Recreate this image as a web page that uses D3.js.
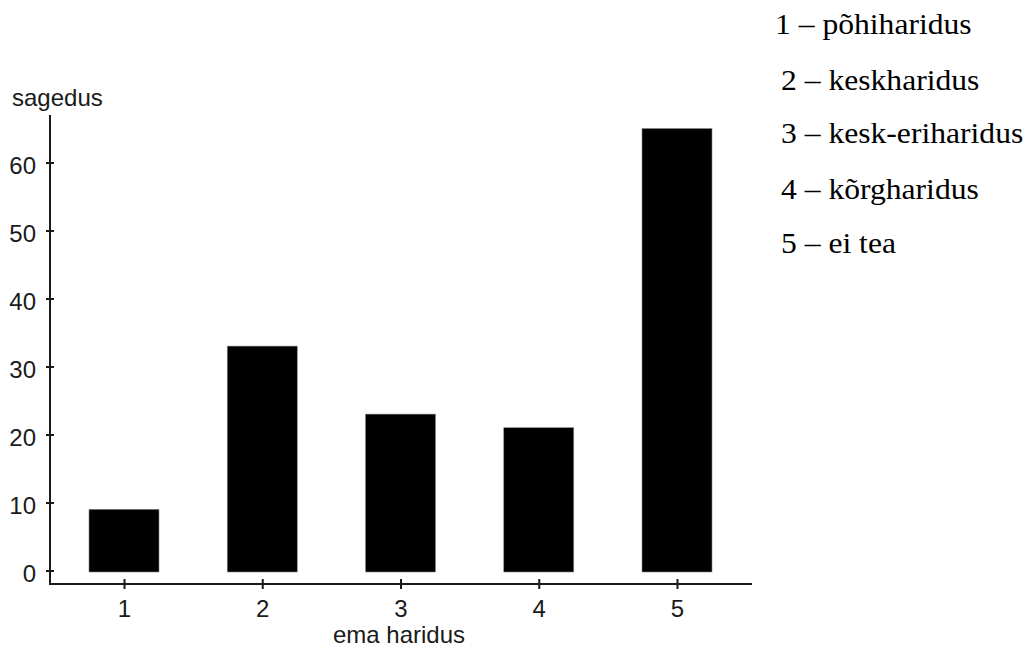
<!DOCTYPE html>
<html>
<head>
<meta charset="utf-8">
<script src="https://cdn.jsdelivr.net/npm/d3@7"></script>
<style>
  body { margin: 0; background: #fff; }
  svg { display: block; }
</style>
</head>
<body>
<div id="wrapper"></div>
<script>
// data
const categories = ["1", "2", "3", "4", "5"];
const frequencies = [9, 33, 23, 21, 65];
const yTicks = [0, 10, 20, 30, 40, 50, 60];
const legendLabels = ["1 – põhiharidus", "2 – keskharidus", "3 – kesk-eriharidus", "4 – kõrgharidus", "5 – ei tea"];
const yTitle = "sagedus";
const xTitle = "ema haridus";

const width = 1031;
const height = 649;
const axisFont = "'Liberation Sans', Arial, sans-serif";
const ink = "#1a1a1a";

const svg = d3.select("#wrapper")
    .append("svg")
    .attr("width", width)
    .attr("height", height);

const xAxisY = 584;
const yAxisX = 50;

const xScale = d3.scalePoint().domain(categories).range([124, 677]);
const yScale = d3.scaleLinear().domain([0, 67]).range([570.5, 114.9]);
const barWidth = 70;

// bars
svg.append("g")
    .selectAll("rect")
    .data(frequencies)
    .join("rect")
    .attr("x", (d, i) => xScale(categories[i]) - barWidth / 2)
    .attr("y", d => yScale(d))
    .attr("width", barWidth)
    .attr("height", d => yScale(0) - yScale(d) + 1.5)
    .attr("fill", "#000")
    .attr("stroke", "#888")
    .attr("stroke-width", 0.6);

// y axis
const yAxis = svg.append("g")
    .attr("transform", `translate(${yAxisX},0)`)
    .call(d3.axisLeft(yScale).tickValues(yTicks).tickSize(4).tickPadding(10));
yAxis.select(".domain").remove();
yAxis.selectAll(".tick line").attr("x1", 4).attr("x2", -4).attr("stroke", ink).attr("stroke-width", 2);
yAxis.selectAll(".tick text")
    .attr("dy", "0.45em")
    .style("font-family", axisFont)
    .style("font-size", "24px")
    .attr("fill", ink);

// x axis
const xAxis = svg.append("g")
    .attr("transform", `translate(0,${xAxisY})`)
    .call(d3.axisBottom(xScale).tickSize(5).tickPadding(10));
xAxis.select(".domain").remove();
xAxis.selectAll(".tick line").attr("y1", -5).attr("y2", 5).attr("stroke", ink).attr("stroke-width", 2);
xAxis.selectAll(".tick text")
    .attr("dy", "0.75em")
    .style("font-family", axisFont)
    .style("font-size", "24px")
    .attr("fill", ink);

// axis lines
svg.append("line")
    .attr("x1", yAxisX).attr("x2", yAxisX)
    .attr("y1", yScale(67)).attr("y2", xAxisY + 1)
    .attr("stroke", ink).attr("stroke-width", 2);
svg.append("line")
    .attr("x1", yAxisX - 1).attr("x2", 752)
    .attr("y1", xAxisY).attr("y2", xAxisY)
    .attr("stroke", ink).attr("stroke-width", 2);

// titles
svg.append("text")
    .attr("x", 12)
    .attr("y", 106)
    .style("font-family", axisFont)
    .style("font-size", "24px")
    .attr("fill", ink)
    .text(yTitle);

svg.append("text")
    .attr("x", 399)
    .attr("y", 643)
    .attr("text-anchor", "middle")
    .style("font-family", axisFont)
    .style("font-size", "24px")
    .attr("fill", ink)
    .text(xTitle);

// legend (plain text lines at the right, slightly wide Times)
const legendY = [34, 90, 143, 199, 253];
svg.append("g")
    .selectAll("text")
    .data(legendLabels)
    .join("text")
    .attr("transform", (d, i) => `translate(${i === 0 ? 775 : 781},${legendY[i]}) scale(1.09,1)`)
    .style("font-family", "'Liberation Serif', 'Times New Roman', serif")
    .style("font-size", "29px")
    .attr("fill", "#000")
    .text(d => d);
</script>
</body>
</html>
